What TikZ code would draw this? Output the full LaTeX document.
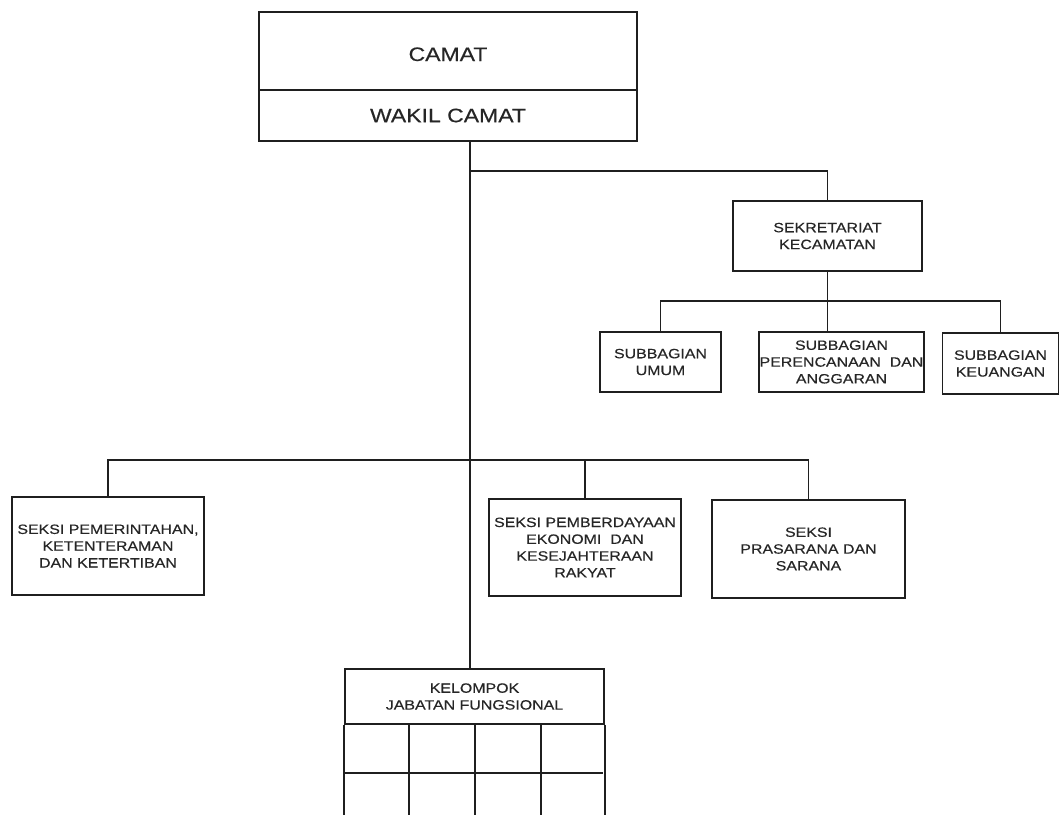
\documentclass[tikz,border=0pt]{standalone}
\usepackage{fontspec}
\newfontfamily\orgfont{Liberation Sans}[FakeStretch=1.18,FakeBold=0.4]
\begin{document}
\begin{tikzpicture}[x=1pt,y=-1pt,
  ink/.style={draw=black!88, line width=1.7pt},
  box/.style={ink, rectangle, inner sep=0pt, align=center, text=black!85,
     font=\orgfont\fontsize{13.5}{16.8}\selectfont},
  bigbox/.style={box, font=\orgfont\fontsize{19.5}{22}\selectfont},
  conn/.style={ink}]
\useasboundingbox (0,0) rectangle (1059,814);
\clip (0,0) rectangle (1059,814);
% top block
\node[bigbox, minimum width=378pt, minimum height=78pt, text height=20pt, text depth=0pt] (camat) at (448,51) {CAMAT};
\node[bigbox, minimum width=378pt, minimum height=51pt] (wakil) at (448,115.5) {WAKIL CAMAT};
% secretariat
\node[box, minimum width=189pt, minimum height=70pt] (sek) at (827.5,236) {SEKRETARIAT\\KECAMATAN};
\node[box, minimum width=121pt, minimum height=60pt] (umum) at (660.5,362) {SUBBAGIAN\\UMUM};
\node[box, minimum width=165pt, minimum height=60pt] (ren) at (841.5,362) {SUBBAGIAN\\PERENCANAAN \ DAN\\ANGGARAN};
\node[box, minimum width=116pt, minimum height=61pt] (keu) at (1000.5,363.5) {SUBBAGIAN\\KEUANGAN};
% seksi
\node[box, minimum width=192pt, minimum height=98pt] (pem) at (108,546) {SEKSI PEMERINTAHAN,\\KETENTERAMAN\\DAN KETERTIBAN};
\node[box, minimum width=192pt, minimum height=97pt] (ekon) at (585,547.5) {SEKSI PEMBERDAYAAN\\EKONOMI \ DAN\\KESEJAHTERAAN\\RAKYAT};
\node[box, minimum width=193pt, minimum height=98pt] (pras) at (808.5,549) {SEKSI\\PRASARANA DAN\\SARANA};
% kelompok
\node[box, minimum width=259pt, minimum height=55pt] (kel) at (474.5,696.5) {KELOMPOK\\JABATAN FUNGSIONAL};
\draw[ink] (kel.south west) -- ++(0,110) (kel.south east) -- ++(0,110);
\draw[ink] (kel.south west) ++(0,48) -- ++(259,0);
\foreach \cx in {409,475,541} \draw[ink] (\cx,724) -- (\cx,830);
% connectors
\coordinate (tr) at (470,141);
\coordinate (br) at (470,171);
\coordinate (bus1) at (0,301);
\coordinate (bus2) at (0,460);
\draw[conn] (wakil.south -| tr) -- (kel.north -| tr);
\draw[conn] (br) -| (sek.north);
\draw[conn] (sek.south) -- (sek.south |- ren.north);
\draw[conn] (umum.north) |- (bus1 -| keu.north) -- (keu.north);
\draw[conn] (pem.north) |- (bus2 -| pras.north) -- (pras.north);
\draw[conn] (ekon.north) -- (ekon.north |- bus2);
\end{tikzpicture}
\end{document}
